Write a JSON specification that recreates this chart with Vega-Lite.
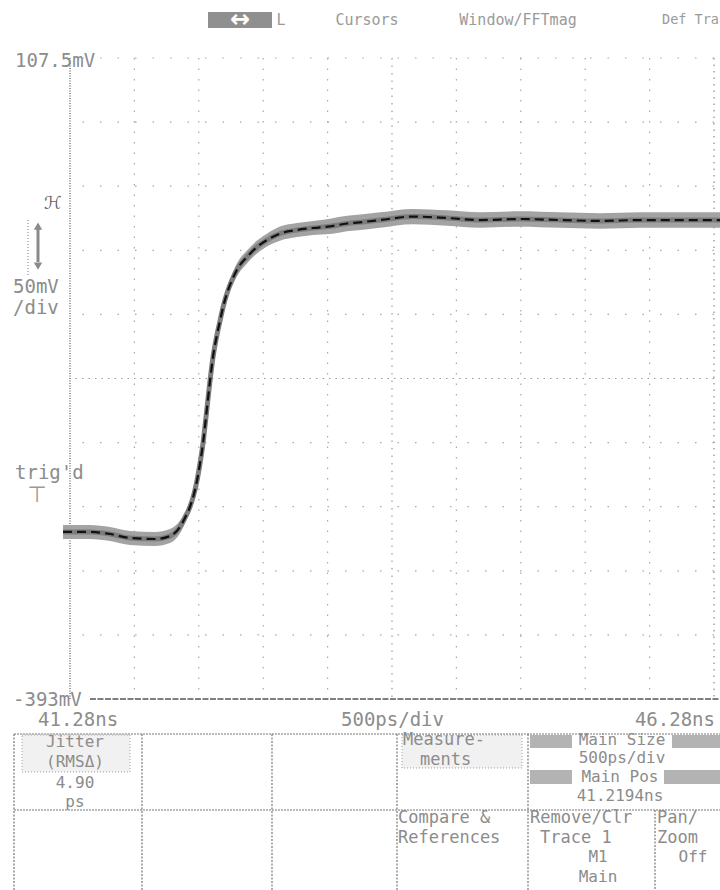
{
  "$schema": "https://vega.github.io/schema/vega-lite/v6.json",
  "width": 644,
  "height": 641,
  "autosize": {"type": "none"},
  "padding": {"left": 70, "top": 58, "right": 6, "bottom": 191},
  "background": "white",
  "config": {
    "view": {"stroke": null},
    "axis": {"disable": true},
    "legend": {"disable": true},
    "text": {"font": "DejaVu Sans Mono"}
  },
  "datasets": {
    "trace": [
      {"t": 41.226, "v": -262.2, "lo": -267.7, "hi": -256.7},
      {"t": 41.435, "v": -262.2, "lo": -267.7, "hi": -256.7},
      {"t": 41.591, "v": -263.8, "lo": -269.3, "hi": -258.3},
      {"t": 41.746, "v": -266.9, "lo": -272.4, "hi": -261.4},
      {"t": 41.940, "v": -267.7, "lo": -273.2, "hi": -262.2},
      {"t": 42.056, "v": -265.4, "lo": -270.9, "hi": -259.9},
      {"t": 42.134, "v": -258.3, "lo": -263.3, "hi": -253.3},
      {"t": 42.173, "v": -251.1, "lo": -255.6, "hi": -246.6},
      {"t": 42.212, "v": -242.5, "lo": -246.5, "hi": -238.5},
      {"t": 42.243, "v": -232.4, "lo": -236.4, "hi": -228.4},
      {"t": 42.266, "v": -222.2, "lo": -226.2, "hi": -218.2},
      {"t": 42.289, "v": -209.0, "lo": -213.0, "hi": -205.0},
      {"t": 42.313, "v": -192.8, "lo": -196.8, "hi": -188.8},
      {"t": 42.336, "v": -172.5, "lo": -176.5, "hi": -168.5},
      {"t": 42.365, "v": -146.0, "lo": -150.0, "hi": -142.0},
      {"t": 42.390, "v": -126.0, "lo": -130.0, "hi": -122.0},
      {"t": 42.421, "v": -108.5, "lo": -112.5, "hi": -104.5},
      {"t": 42.445, "v": -97.5, "lo": -101.5, "hi": -93.5},
      {"t": 42.468, "v": -87.0, "lo": -91.0, "hi": -83.0},
      {"t": 42.499, "v": -76.0, "lo": -80.0, "hi": -72.0},
      {"t": 42.538, "v": -65.7, "lo": -70.2, "hi": -61.2},
      {"t": 42.584, "v": -56.3, "lo": -61.3, "hi": -51.3},
      {"t": 42.654, "v": -47.7, "lo": -52.7, "hi": -42.7},
      {"t": 42.732, "v": -39.9, "lo": -44.9, "hi": -34.9},
      {"t": 42.809, "v": -34.5, "lo": -39.5, "hi": -29.5},
      {"t": 42.910, "v": -29.5, "lo": -35.0, "hi": -24.0},
      {"t": 43.042, "v": -26.7, "lo": -32.2, "hi": -21.2},
      {"t": 43.167, "v": -25.1, "lo": -30.6, "hi": -19.6},
      {"t": 43.299, "v": -23.8, "lo": -29.8, "hi": -17.8},
      {"t": 43.431, "v": -21.6, "lo": -27.6, "hi": -15.6},
      {"t": 43.555, "v": -20.4, "lo": -26.4, "hi": -14.4},
      {"t": 43.687, "v": -18.9, "lo": -24.9, "hi": -12.9},
      {"t": 43.943, "v": -16.2, "lo": -22.2, "hi": -10.2},
      {"t": 44.207, "v": -17.3, "lo": -23.3, "hi": -11.3},
      {"t": 44.463, "v": -18.9, "lo": -24.9, "hi": -12.9},
      {"t": 44.774, "v": -18.1, "lo": -24.1, "hi": -12.1},
      {"t": 45.084, "v": -18.9, "lo": -24.9, "hi": -12.9},
      {"t": 45.395, "v": -19.6, "lo": -25.6, "hi": -13.6},
      {"t": 45.705, "v": -18.9, "lo": -24.9, "hi": -12.9},
      {"t": 46.016, "v": -18.9, "lo": -24.9, "hi": -12.9},
      {"t": 46.327, "v": -18.9, "lo": -24.9, "hi": -12.9}
    ],
    "vgrid": [{"t": 41.78}, {"t": 42.28}, {"t": 42.78}, {"t": 43.28}, {"t": 44.28}, {"t": 44.78}, {"t": 45.28}, {"t": 45.78}],
    "hgrid": [{"v": 107.5}, {"v": 57.5}, {"v": 7.5}, {"v": -42.5}, {"v": -92.5}, {"v": -192.5}, {"v": -242.5}, {"v": -292.5}, {"v": -342.5}],
    "vcenter": [{"t": 43.78}],
    "hcenter": [{"v": -142.5}],
    "leftEdge": [{"t": 41.28}],
    "rightEdge": [{"t": 46.28}],
    "bottomEdge": [{"t1": 41.435, "t2": 46.3266, "v": -392.5}],
    "scaleLabelsLeft": [
      {"t": 40.853, "v": 105.16, "label": "107.5mV"},
      {"t": 40.8375, "v": -71.13, "label": "50mV"},
      {"t": 40.8375, "v": -87.51, "label": "/div"},
      {"t": 40.853, "v": -216.21, "label": "trig'd"},
      {"t": 40.8375, "v": -393.28, "label": "-393mV"},
      {"t": 41.0316, "v": -408.88, "label": "41.28ns"}
    ],
    "scaleLabelsCenter": [{"t": 43.7839, "v": -408.88, "label": "500ps/div"}],
    "scaleLabelsRight": [{"t": 46.2878, "v": -408.88, "label": "46.28ns"}],
    "menuBox": [{"t1": 42.3514, "t2": 42.8483, "v1": 143.38, "v2": 130.90}],
    "menuArrow": [{"t": 42.5999, "v": 137.14, "label": "↔"}],
    "menuCenter": [
      {"t": 42.9182, "v": 137.14, "label": "L"},
      {"t": 43.5859, "v": 137.14, "label": "Cursors"},
      {"t": 44.7583, "v": 137.14, "label": "Window/FFTmag"}
    ],
    "menuLeft": [{"t": 45.877, "v": 137.14, "label": "Def Tra"}],
    "highlightBoxes": [
      {"t1": 40.9073, "t2": 41.7458, "v1": -420.58, "v2": -449.44},
      {"t1": 43.8576, "t2": 44.7893, "v1": -420.58, "v2": -446.32}
    ],
    "hatchBars": [
      {"t1": 44.8514, "t2": 45.1775, "v1": -420.58, "v2": -430.72},
      {"t1": 45.9539, "t2": 46.3266, "v1": -420.58, "v2": -430.72},
      {"t1": 44.8514, "t2": 45.1775, "v1": -447.88, "v2": -458.80},
      {"t1": 45.8918, "t2": 46.3266, "v1": -447.88, "v2": -458.80}
    ],
    "tableH": [
      {"t1": 40.8452, "t2": 46.3266, "v": -419.80},
      {"t1": 40.8452, "t2": 46.3266, "v": -479.08}
    ],
    "tableV": [
      {"t": 40.8452, "v1": -419.80, "v2": -541.48},
      {"t": 41.8390, "v1": -419.80, "v2": -541.48},
      {"t": 42.8483, "v1": -419.80, "v2": -541.48},
      {"t": 43.8188, "v1": -419.80, "v2": -541.48},
      {"t": 44.8359, "v1": -419.80, "v2": -541.48},
      {"t": 45.8219, "v1": -479.08, "v2": -541.48}
    ],
    "tableLeft": [
      {"t": 43.8654, "v": -424.48, "label": "Measure-"},
      {"t": 43.9974, "v": -440.06, "label": "ments"},
      {"t": 43.8266, "v": -485.32, "label": "Compare &"},
      {"t": 43.8266, "v": -500.92, "label": "References"},
      {"t": 44.8514, "v": -485.32, "label": "Remove/Clr"},
      {"t": 44.9291, "v": -500.92, "label": "Trace 1"},
      {"t": 45.8375, "v": -485.32, "label": "Pan/"},
      {"t": 45.8375, "v": -500.92, "label": "Zoom"}
    ],
    "tableCenter": [
      {"t": 41.3188, "v": -426.04, "label": "Jitter"},
      {"t": 41.3188, "v": -441.64, "label": "(RMSΔ)"},
      {"t": 41.3188, "v": -458.02, "label": "4.90"},
      {"t": 41.3188, "v": -472.84, "label": "ps"},
      {"t": 45.5657, "v": -424.48, "label": "Main Size"},
      {"t": 45.5657, "v": -438.52, "label": "500ps/div"},
      {"t": 45.55, "v": -453.34, "label": "Main Pos"},
      {"t": 45.55, "v": -468.16, "label": "41.2194ns"},
      {"t": 45.3794, "v": -515.74, "label": "M1"},
      {"t": 45.3794, "v": -531.34, "label": "Main"},
      {"t": 46.117, "v": -515.74, "label": "Off"}
    ],
    "posArrow": [{"t": 41.0316, "v1": -25.1, "v2": -51.63}],
    "posArrowUp": [{"t": 41.0316, "v": -23.55}],
    "posArrowDown": [{"t": 41.0316, "v": -54.75}],
    "posDotted": [{"t": 40.9539, "v1": -18.86, "v2": -61.77}],
    "chanIcon": [{"t": 41.148, "v": -6.38, "label": "ℋ"}],
    "trigIcon": [{"t": 41.0238, "v": -233.37, "label": "⊤"}]
  },
  "layer": [
    {
      "data": {"name": "hgrid"},
      "mark": {"type": "rule", "color": "#a8a8a8", "strokeWidth": 1.2, "strokeDash": [1.5, 16]},
      "encoding": {
        "y": {"field": "v", "type": "quantitative", "axis": null, "scale": {"domain": [-392.5, 107.5], "nice": false, "zero": false}}
      }
    },
    {
      "data": {"name": "vgrid"},
      "mark": {"type": "rule", "color": "#a8a8a8", "strokeWidth": 1.2, "strokeDash": [1.5, 9]},
      "encoding": {
        "x": {"field": "t", "type": "quantitative", "axis": null, "scale": {"domain": [41.28, 46.28], "nice": false, "zero": false}}
      }
    },
    {
      "data": {"name": "hcenter"},
      "mark": {"type": "rule", "color": "#999999", "strokeWidth": 1.2, "strokeDash": [1.5, 5]},
      "encoding": {"y": {"field": "v", "type": "quantitative", "axis": null}}
    },
    {
      "data": {"name": "vcenter"},
      "mark": {"type": "rule", "color": "#999999", "strokeWidth": 1.2, "strokeDash": [1.5, 6]},
      "encoding": {"x": {"field": "t", "type": "quantitative", "axis": null}}
    },
    {
      "data": {"name": "leftEdge"},
      "mark": {"type": "rule", "color": "#555555", "strokeWidth": 1.2, "strokeDash": [1, 1.5]},
      "encoding": {"x": {"field": "t", "type": "quantitative", "axis": null}}
    },
    {
      "data": {"name": "rightEdge"},
      "mark": {"type": "rule", "color": "#8a8a8a", "strokeWidth": 1.2, "strokeDash": [1.5, 5]},
      "encoding": {"x": {"field": "t", "type": "quantitative", "axis": null}}
    },
    {
      "data": {"name": "bottomEdge"},
      "mark": {"type": "rule", "color": "#555555", "strokeWidth": 1.6, "strokeDash": [6, 1.5]},
      "encoding": {
        "x": {"field": "t1", "type": "quantitative", "axis": null},
        "x2": {"field": "t2"},
        "y": {"field": "v", "type": "quantitative", "axis": null}
      }
    },
    {
      "data": {"name": "trace"},
      "mark": {"type": "area", "color": "#a3a3a3", "opacity": 1, "interpolate": "monotone"},
      "encoding": {
        "x": {"field": "t", "type": "quantitative", "axis": null},
        "y": {"field": "lo", "type": "quantitative", "axis": null},
        "y2": {"field": "hi"}
      }
    },
    {
      "data": {"name": "trace"},
      "mark": {"type": "line", "color": "#7d7d7d", "strokeWidth": 5, "interpolate": "monotone"},
      "encoding": {
        "x": {"field": "t", "type": "quantitative", "axis": null},
        "y": {"field": "v", "type": "quantitative", "axis": null}
      }
    },
    {
      "data": {"name": "trace"},
      "mark": {"type": "line", "color": "#111111", "strokeWidth": 2.2, "strokeDash": [9, 5], "interpolate": "monotone"},
      "encoding": {
        "x": {"field": "t", "type": "quantitative", "axis": null},
        "y": {"field": "v", "type": "quantitative", "axis": null}
      }
    },
    {
      "data": {"name": "scaleLabelsLeft"},
      "mark": {"type": "text", "align": "left", "baseline": "middle", "fontSize": 19, "color": "#8c8c8c"},
      "encoding": {
        "x": {"field": "t", "type": "quantitative", "axis": null},
        "y": {"field": "v", "type": "quantitative", "axis": null},
        "text": {"field": "label"}
      }
    },
    {
      "data": {"name": "scaleLabelsCenter"},
      "mark": {"type": "text", "align": "center", "baseline": "middle", "fontSize": 19, "color": "#8c8c8c"},
      "encoding": {
        "x": {"field": "t", "type": "quantitative", "axis": null},
        "y": {"field": "v", "type": "quantitative", "axis": null},
        "text": {"field": "label"}
      }
    },
    {
      "data": {"name": "scaleLabelsRight"},
      "mark": {"type": "text", "align": "right", "baseline": "middle", "fontSize": 19, "color": "#8c8c8c"},
      "encoding": {
        "x": {"field": "t", "type": "quantitative", "axis": null},
        "y": {"field": "v", "type": "quantitative", "axis": null},
        "text": {"field": "label"}
      }
    },
    {
      "data": {"name": "menuBox"},
      "mark": {"type": "rect", "color": "#8f8f8f"},
      "encoding": {
        "x": {"field": "t1", "type": "quantitative", "axis": null},
        "x2": {"field": "t2"},
        "y": {"field": "v1", "type": "quantitative", "axis": null},
        "y2": {"field": "v2"}
      }
    },
    {
      "data": {"name": "menuArrow"},
      "mark": {"type": "text", "align": "center", "baseline": "middle", "fontSize": 24, "font": "DejaVu Sans", "color": "white", "fontWeight": "bold"},
      "encoding": {
        "x": {"field": "t", "type": "quantitative", "axis": null},
        "y": {"field": "v", "type": "quantitative", "axis": null},
        "text": {"field": "label"}
      }
    },
    {
      "data": {"name": "menuCenter"},
      "mark": {"type": "text", "align": "center", "baseline": "middle", "fontSize": 15, "color": "#9a9a9a"},
      "encoding": {
        "x": {"field": "t", "type": "quantitative", "axis": null},
        "y": {"field": "v", "type": "quantitative", "axis": null},
        "text": {"field": "label"}
      }
    },
    {
      "data": {"name": "menuLeft"},
      "mark": {"type": "text", "align": "left", "baseline": "middle", "fontSize": 13.5, "color": "#9a9a9a"},
      "encoding": {
        "x": {"field": "t", "type": "quantitative", "axis": null},
        "y": {"field": "v", "type": "quantitative", "axis": null},
        "text": {"field": "label"}
      }
    },
    {
      "data": {"name": "highlightBoxes"},
      "mark": {"type": "rect", "color": "#f1f1f1", "stroke": "#a0a0a0", "strokeWidth": 1, "strokeDash": [1, 2]},
      "encoding": {
        "x": {"field": "t1", "type": "quantitative", "axis": null},
        "x2": {"field": "t2"},
        "y": {"field": "v1", "type": "quantitative", "axis": null},
        "y2": {"field": "v2"}
      }
    },
    {
      "data": {"name": "hatchBars"},
      "mark": {"type": "rect", "color": "#b3b3b3"},
      "encoding": {
        "x": {"field": "t1", "type": "quantitative", "axis": null},
        "x2": {"field": "t2"},
        "y": {"field": "v1", "type": "quantitative", "axis": null},
        "y2": {"field": "v2"}
      }
    },
    {
      "data": {"name": "tableH"},
      "mark": {"type": "rule", "color": "#777777", "strokeWidth": 1.2, "strokeDash": [2, 1]},
      "encoding": {
        "x": {"field": "t1", "type": "quantitative", "axis": null},
        "x2": {"field": "t2"},
        "y": {"field": "v", "type": "quantitative", "axis": null}
      }
    },
    {
      "data": {"name": "tableV"},
      "mark": {"type": "rule", "color": "#777777", "strokeWidth": 1.2, "strokeDash": [2, 1.5]},
      "encoding": {
        "x": {"field": "t", "type": "quantitative", "axis": null},
        "y": {"field": "v1", "type": "quantitative", "axis": null},
        "y2": {"field": "v2"}
      }
    },
    {
      "data": {"name": "tableLeft"},
      "mark": {"type": "text", "align": "left", "baseline": "middle", "fontSize": 17, "color": "#8c8c8c"},
      "encoding": {
        "x": {"field": "t", "type": "quantitative", "axis": null},
        "y": {"field": "v", "type": "quantitative", "axis": null},
        "text": {"field": "label"}
      }
    },
    {
      "data": {"name": "tableCenter"},
      "mark": {"type": "text", "align": "center", "baseline": "middle", "fontSize": 16, "color": "#8c8c8c"},
      "encoding": {
        "x": {"field": "t", "type": "quantitative", "axis": null},
        "y": {"field": "v", "type": "quantitative", "axis": null},
        "text": {"field": "label"}
      }
    },
    {
      "data": {"name": "posDotted"},
      "mark": {"type": "rule", "color": "#777777", "strokeWidth": 1, "strokeDash": [1, 2]},
      "encoding": {
        "x": {"field": "t", "type": "quantitative", "axis": null},
        "y": {"field": "v1", "type": "quantitative", "axis": null},
        "y2": {"field": "v2"}
      }
    },
    {
      "data": {"name": "posArrow"},
      "mark": {"type": "rule", "color": "#8a8a8a", "strokeWidth": 3},
      "encoding": {
        "x": {"field": "t", "type": "quantitative", "axis": null},
        "y": {"field": "v1", "type": "quantitative", "axis": null},
        "y2": {"field": "v2"}
      }
    },
    {
      "data": {"name": "posArrowUp"},
      "mark": {"type": "point", "shape": "triangle-up", "filled": true, "color": "#8a8a8a", "size": 70, "opacity": 1},
      "encoding": {
        "x": {"field": "t", "type": "quantitative", "axis": null},
        "y": {"field": "v", "type": "quantitative", "axis": null}
      }
    },
    {
      "data": {"name": "posArrowDown"},
      "mark": {"type": "point", "shape": "triangle-down", "filled": true, "color": "#8a8a8a", "size": 70, "opacity": 1},
      "encoding": {
        "x": {"field": "t", "type": "quantitative", "axis": null},
        "y": {"field": "v", "type": "quantitative", "axis": null}
      }
    },
    {
      "data": {"name": "chanIcon"},
      "mark": {"type": "text", "align": "center", "baseline": "middle", "fontSize": 18, "font": "DejaVu Sans", "fontStyle": "italic", "color": "#666666"},
      "encoding": {
        "x": {"field": "t", "type": "quantitative", "axis": null},
        "y": {"field": "v", "type": "quantitative", "axis": null},
        "text": {"field": "label"}
      }
    },
    {
      "data": {"name": "trigIcon"},
      "mark": {"type": "text", "align": "center", "baseline": "middle", "fontSize": 22, "font": "DejaVu Sans", "color": "#999999"},
      "encoding": {
        "x": {"field": "t", "type": "quantitative", "axis": null},
        "y": {"field": "v", "type": "quantitative", "axis": null},
        "text": {"field": "label"}
      }
    }
  ]
}
